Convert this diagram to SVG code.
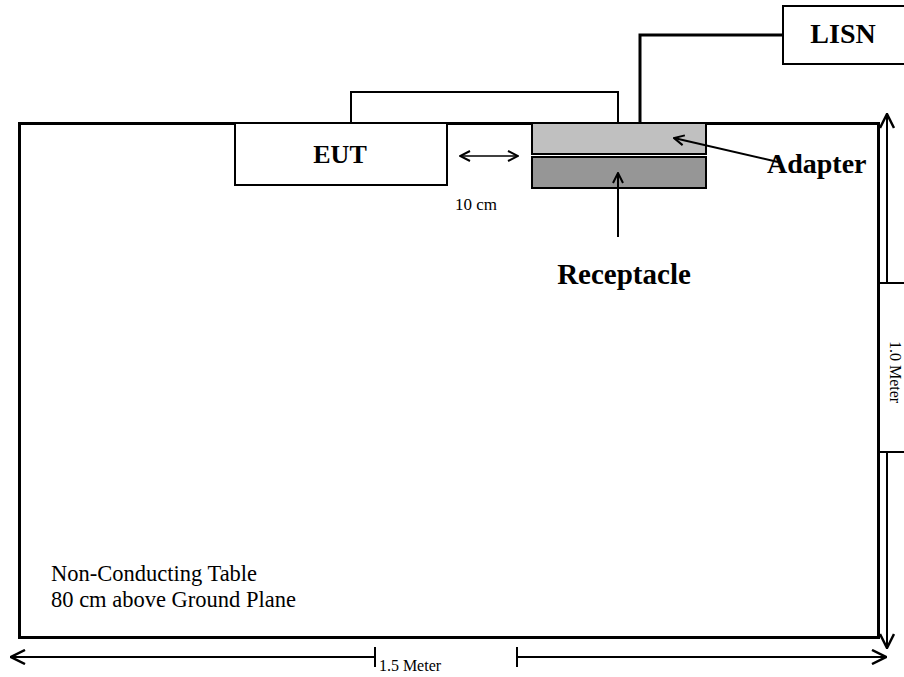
<svg xmlns="http://www.w3.org/2000/svg" width="904" height="677" viewBox="0 0 904 677">
<defs>
<marker id="open" viewBox="0 0 12 12" refX="11" refY="6" markerWidth="12" markerHeight="12" markerUnits="userSpaceOnUse" orient="auto-start-reverse">
<path d="M1,1 L11,6 L1,11" fill="none" stroke="#000" stroke-width="2"/>
</marker>
<marker id="big" viewBox="0 0 16 16" refX="15" refY="8" markerWidth="16" markerHeight="16" markerUnits="userSpaceOnUse" orient="auto-start-reverse">
<path d="M1,1 L15,8 L1,15" fill="none" stroke="#000" stroke-width="2.5"/>
</marker>
</defs>
<style>
.bold{font-family:"Liberation Serif","Times New Roman",serif;font-weight:bold;fill:#000}
.reg{font-family:"Liberation Serif","Times New Roman",serif;fill:#000}
.ln{fill:none;stroke:#000}
</style>
<rect width="904" height="677" fill="#fff"/>
<g id="table">
<rect x="19.5" y="123.5" width="859" height="514" fill="#fff" stroke="#000" stroke-width="3"/>
<text class="reg" x="51" y="581" font-size="22.5">Non-Conducting Table</text>
<text class="reg" x="51" y="607" font-size="22.5">80 cm above Ground Plane</text>
</g>
<g id="eut">
<rect x="235" y="123" width="212" height="62" fill="#fff" stroke="#000" stroke-width="2"/>
<text class="bold" x="340" y="163" font-size="26" text-anchor="middle">EUT</text>
</g>
<g id="adapter">
<rect x="532" y="123" width="174" height="31" fill="#c0c0c0" stroke="#000" stroke-width="2"/>
<text class="bold" x="767" y="173" font-size="28">Adapter</text>
</g>
<g id="receptacle">
<rect x="532" y="157" width="174" height="31" fill="#969696" stroke="#000" stroke-width="2"/>
<text class="bold" x="624" y="284" font-size="29" text-anchor="middle">Receptacle</text>
</g>
<g id="lisn">
<rect x="783" y="6" width="130" height="58" fill="#fff" stroke="#000" stroke-width="2"/>
<text class="bold" x="843" y="43" font-size="28" text-anchor="middle">LISN</text>
</g>
<g id="connectors">
<polyline class="ln" points="351,123 351,92 618,92 618,123" stroke-width="2"/>
<polyline class="ln" points="640,123 640,35 783,35" stroke-width="3"/>
<line class="ln" x1="460" y1="156" x2="518" y2="156" stroke-width="1.5" marker-start="url(#open)" marker-end="url(#open)"/>
<line class="ln" x1="778" y1="162" x2="674" y2="138" stroke-width="2" marker-end="url(#open)"/>
<line class="ln" x1="618" y1="237" x2="618" y2="173" stroke-width="2" marker-end="url(#open)"/>
<line class="ln" x1="11" y1="657" x2="375" y2="657" stroke-width="2" marker-start="url(#big)"/>
<line class="ln" x1="375" y1="647" x2="375" y2="667" stroke-width="2"/>
<line class="ln" x1="517" y1="657" x2="886" y2="657" stroke-width="2" marker-end="url(#big)"/>
<line class="ln" x1="517" y1="647" x2="517" y2="667" stroke-width="2"/>
<line class="ln" x1="887" y1="114" x2="887" y2="283" stroke-width="2" marker-start="url(#big)"/>
<line class="ln" x1="878" y1="283" x2="904" y2="283" stroke-width="2"/>
<line class="ln" x1="887" y1="452" x2="887" y2="648" stroke-width="2" marker-end="url(#big)"/>
<line class="ln" x1="878" y1="452" x2="904" y2="452" stroke-width="2"/>
</g>
<g id="dims">
<text class="reg" x="476" y="210" font-size="17" text-anchor="middle">10 cm</text>
<text class="reg" x="410" y="671" font-size="16" text-anchor="middle">1.5 Meter</text>
<text class="reg" x="0" y="0" font-size="16" text-anchor="middle" transform="translate(890,372) rotate(90)">1.0 Meter</text>
</g>
</svg>
